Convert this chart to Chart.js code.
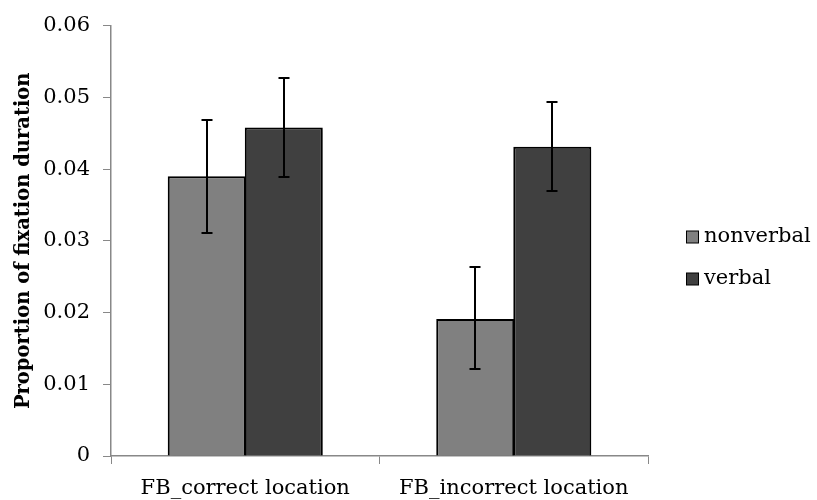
<!DOCTYPE html>
<html>
<head>
<meta charset="utf-8">
<script src="https://cdn.jsdelivr.net/npm/chart.js@4"></script>
<style>
html,body{margin:0;padding:0;background:#fff;}
#wrap{width:817px;height:500px;position:relative;}
</style>
</head>
<body>
<div id="wrap"><canvas id="c" width="817" height="500"></canvas></div>
<script>
const categories = ['FB_correct location', 'FB_incorrect location'];
const seriesNames = ['nonverbal', 'verbal'];
const nonverbalMean = [0.0390, 0.0191];
const nonverbalLow  = [0.0311, 0.0121];
const nonverbalHigh = [0.0469, 0.0263];
const verbalMean = [0.0458, 0.0431];
const verbalLow  = [0.0389, 0.0369];
const verbalHigh = [0.0527, 0.0494];
const yTickLabels = ['0', '0.01', '0.02', '0.03', '0.04', '0.05', '0.06'];

const FONT = '"DejaVu Serif", serif';
const colors = ['#808080', '#404040'];

const barShadow = {
  id: 'barShadow',
  beforeDatasetsDraw(chart) {
    const ctx = chart.ctx;
    ctx.save();
    ctx.shadowColor = 'rgba(0,0,0,0.22)';
    ctx.shadowBlur = 4;
    ctx.shadowOffsetX = 2;
    ctx.shadowOffsetY = 2;
  },
  afterDatasetsDraw(chart) {
    chart.ctx.restore();
  }
};

const errorBars = {
  id: 'errorBars',
  afterDatasetsDraw(chart) {
    const ctx = chart.ctx;
    const y = chart.scales.y;
    ctx.save();
    ctx.strokeStyle = '#000';
    ctx.lineWidth = 2;
    chart.data.datasets.forEach((ds, di) => {
      const meta = chart.getDatasetMeta(di);
      meta.data.forEach((bar, i) => {
        const x = Math.round(bar.x);
        const yl = Math.round(y.getPixelForValue(ds.errLow[i]));
        const yh = Math.round(y.getPixelForValue(ds.errHigh[i]));
        ctx.beginPath();
        ctx.moveTo(x, yl); ctx.lineTo(x, yh);
        ctx.moveTo(x - 5.5, yl); ctx.lineTo(x + 5.5, yl);
        ctx.moveTo(x - 5.5, yh); ctx.lineTo(x + 5.5, yh);
        ctx.stroke();
      });
    });
    ctx.restore();
  }
};

const customLegend = {
  id: 'customLegend',
  afterDraw(chart) {
    const ctx = chart.ctx;
    ctx.save();
    ctx.font = '21px ' + FONT;
    ctx.textBaseline = 'middle';
    chart.data.datasets.forEach((ds, i) => {
      const cy = 237 + i * 42;
      ctx.fillStyle = ds.backgroundColor;
      ctx.fillRect(686.5, cy - 6, 12, 12);
      ctx.strokeStyle = '#000';
      ctx.lineWidth = 1;
      ctx.strokeRect(686.5, cy - 6, 12, 12);
      ctx.fillStyle = '#000';
      ctx.fillText(ds.label, 704, cy);
    });
    ctx.restore();
  }
};

new Chart(document.getElementById('c'), {
  type: 'bar',
  data: {
    labels: categories,
    datasets: [
      { label: seriesNames[0], data: nonverbalMean, errLow: nonverbalLow, errHigh: nonverbalHigh,
        backgroundColor: colors[0], borderColor: '#000', borderWidth: 2,
        categoryPercentage: 0.574, barPercentage: 1.012 },
      { label: seriesNames[1], data: verbalMean, errLow: verbalLow, errHigh: verbalHigh,
        backgroundColor: colors[1], borderColor: '#000', borderWidth: 2,
        categoryPercentage: 0.574, barPercentage: 1.012 }
    ]
  },
  options: {
    responsive: false,
    animation: false,
    devicePixelRatio: 1,
    layout: { padding: { top: 25, right: 169, left: 0, bottom: 0 } },
    plugins: { legend: { display: false }, tooltip: { enabled: false } },
    scales: {
      x: {
        grid: { display: true, drawOnChartArea: false, drawTicks: true, tickLength: 8, color: '#888', offset: true },
        border: { display: true, color: '#888', width: 1.5 },
        ticks: { color: '#000', font: { family: FONT, size: 21 }, padding: 12, maxRotation: 0 },
        afterFit(s) { s.height = 44; }
      },
      y: {
        min: 0, max: 0.06,
        grid: { display: true, drawOnChartArea: false, drawTicks: true, tickLength: 8, color: '#888' },
        border: { display: true, color: '#888', width: 1.5 },
        ticks: {
          stepSize: 0.01, color: '#000', font: { family: FONT, size: 21 }, padding: 13,
          callback: (v, i) => yTickLabels[i]
        },
        title: { display: true, text: 'Proportion of fixation duration', color: '#000',
          font: { family: FONT, size: 19.5, weight: 'bold' }, padding: { top: 12, bottom: 0 } },
        afterFit(s) { s.width = 111; }
      }
    }
  },
  plugins: [barShadow, errorBars, customLegend]
});
</script>
</body>
</html>
